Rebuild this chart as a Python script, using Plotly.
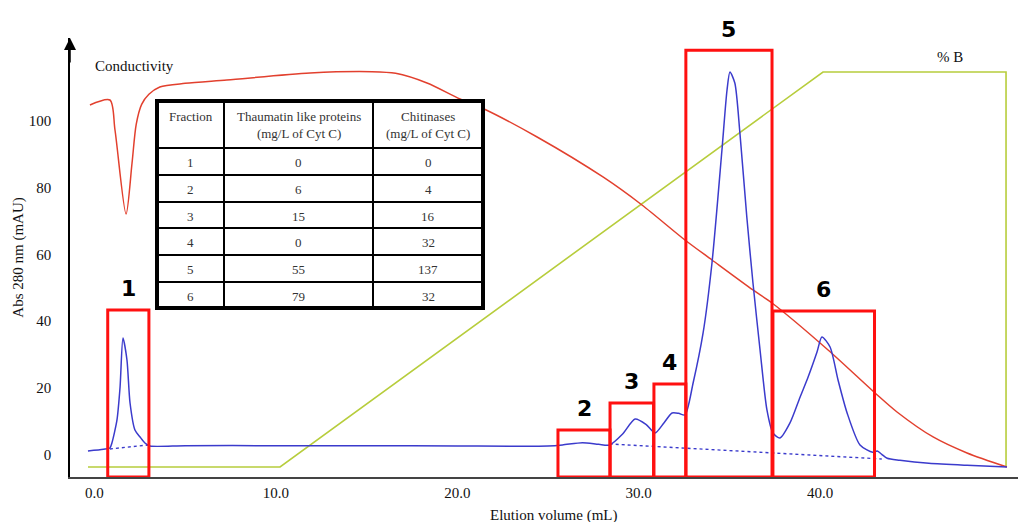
import plotly.graph_objects as go

# ---- UV absorbance trace (Abs 280 nm, mAU) vs elution volume (mL)
abs_ml = [-0.36, 0.5, 0.85, 0.96, 1.1, 1.24, 1.41, 1.57, 1.79, 1.96, 2.23, 2.51, 2.78, 3.06,
          5.0, 10.0, 15.0, 20.0, 25.0, 25.8, 26.9, 27.8, 28.4, 29.1, 29.8, 30.4, 30.9, 31.4,
          31.84, 32.2, 32.55, 33.0, 33.55, 34.04, 34.59, 34.87, 35.03, 35.3, 35.58, 35.96,
          36.3, 36.69, 37.07, 37.4, 37.79, 38.34, 38.9, 39.34, 39.83, 40.1, 40.55, 40.99,
          41.49, 42.2, 42.9, 43.15, 43.4, 43.7, 44.4, 46.0, 48.1, 50.3]
abs_mau = [1.0, 1.5, 1.9, 3.4, 6.5, 10.3, 20.2, 34.9, 28.3, 15.4, 7.3, 5.2, 3.4, 2.5,
           2.6, 2.6, 2.6, 2.5, 2.5, 2.8, 3.5, 3.0, 2.8, 6.0, 10.6, 9.0, 6.4, 9.5,
           12.4, 12.3, 11.8, 21.4, 36.4, 57.4, 91.3, 109.3, 114.7, 111.4, 96.4, 71.2,
           51.4, 31.3, 13.3, 6.4, 4.9, 9.4, 17.2, 23.2, 30.7, 35.2, 32.2, 22.3,
           12.4, 2.8, 0.6, 1.0, 0.0, -1.2, -1.8, -2.7, -3.3, -3.8]

# integration baselines under peak 1 and peaks 3-6
base_ml = [0.85, 2.95, None, 28.4, 43.4]
base_mau = [1.6, 2.8, None, 3.1, -1.4]

# ---- conductivity trace
cond_ml = [-0.25, 0.85, 1.13, 1.74, 2.07, 2.3, 2.6, 3.0, 3.6, 5.0, 7.3, 11.88, 15.3, 16.6,
           18.33, 20.15, 21.36, 24.4, 28.03, 30.18, 32.55, 34.04, 36.3, 37.35, 40.44,
           43.03, 44.24, 46.23, 48.1, 50.3]
cond_val = [104.8, 106.3, 97.3, 72.1, 87.4, 99.0, 105.0, 108.0, 110.2, 111.3, 112.3, 114.4,
            114.8, 114.3, 111.4, 106.6, 103.9, 95.2, 83.2, 74.8, 64.3, 58.3, 49.3, 45.4,
            31.3, 18.4, 12.7, 5.2, 0.4, -3.8]

# ---- gradient (%B) program
grad_ml = [-0.36, 10.23, 40.16, 50.25, 50.25]
grad_val = [-3.8, -3.8, 114.7, 114.7, -3.8]

# ---- collected fractions
frac_label = ["1", "2", "3", "4", "5", "6"]
frac_start = [0.73, 25.55, 28.42, 30.84, 32.6, 37.4]
frac_end = [3.0, 28.42, 30.82, 32.6, 37.35, 43.0]
frac_top = [43.3, 7.3, 15.4, 21.1, 121.2, 43.0]

# ---- activity table
tbl_fraction = [1, 2, 3, 4, 5, 6]
tbl_thaumatin = [0, 6, 15, 0, 55, 79]
tbl_chitinase = [0, 4, 16, 32, 137, 32]
tbl_header = ["Fraction", "Thaumatin like proteins<br>(mg/L of Cyt C)",
              "Chitinases<br>(mg/L of Cyt C)"]

x_ticks = [0, 10, 20, 30, 40]
x_ticktext = ["0.0", "10.0", "20.0", "30.0", "40.0"]
y_ticks = [0, 20, 40, 60, 80, 100]

BLUE = "#3b3bcc"
RED = "#e2402e"
GREEN = "#b7cd3c"
SERIF = "Liberation Serif"

W, H = 1018, 522
M_L, M_R, M_T, M_B = 70, 0, 38, 45
PLOT_W = W - M_L - M_R
PLOT_H = H - M_T - M_B


def px_x(p):
    """pixel column -> paper x"""
    return (p - M_L) / PLOT_W


def px_y(p):
    """pixel row -> paper y"""
    return (H - M_B - p) / PLOT_H


fig = go.Figure()

fig.add_trace(go.Scatter(x=grad_ml, y=grad_val, mode="lines",
                         line=dict(color=GREEN, width=1.6), hoverinfo="skip"))
fig.add_trace(go.Scatter(x=cond_ml, y=cond_val, mode="lines",
                         line=dict(color=RED, width=1.5, shape="spline", smoothing=0.8),
                         hoverinfo="skip"))
fig.add_trace(go.Scatter(x=base_ml, y=base_mau, mode="lines",
                         line=dict(color=BLUE, width=1.4, dash="dot"), hoverinfo="skip"))
fig.add_trace(go.Scatter(x=abs_ml, y=abs_mau, mode="lines",
                         line=dict(color=BLUE, width=1.5, shape="spline", smoothing=0.7),
                         hoverinfo="skip"))

Y_MIN, Y_MAX = -6.81, 124.9

# fraction boxes and their numbers
for lab, x0, x1, top in zip(frac_label, frac_start, frac_end, frac_top):
    fig.add_shape(type="rect", xref="x", yref="y", x0=x0, x1=x1, y0=Y_MIN, y1=top,
                  line=dict(color="#ff1010", width=3), layer="above")
    fig.add_annotation(x=(x0 + x1) / 2, y=top, xref="x", yref="y", text=lab,
                       showarrow=False, xanchor="center", yanchor="middle", yshift=21,
                       font=dict(family="DejaVu Sans", size=22, color="black", weight="bold"))

# ---- activity table drawn as a grid of cells
col_edges = [157, 224, 373, 483]
row_edges = [101, 148, 175, 202, 228, 255, 282, 308]
x0t, x1t = px_x(col_edges[0]), px_x(col_edges[-1])
y0t, y1t = px_y(row_edges[-1]), px_y(row_edges[0])

fig.add_shape(type="rect", xref="paper", yref="paper", x0=x0t, x1=x1t, y0=y0t, y1=y1t,
              fillcolor="white", line=dict(width=0), layer="above")
for c in col_edges[1:-1]:
    fig.add_shape(type="line", xref="paper", yref="paper", x0=px_x(c), x1=px_x(c),
                  y0=y0t, y1=y1t, line=dict(color="black", width=2), layer="above")
for r in row_edges[1:-1]:
    fig.add_shape(type="line", xref="paper", yref="paper", x0=x0t, x1=x1t,
                  y0=px_y(r), y1=px_y(r), line=dict(color="black", width=2), layer="above")
fig.add_shape(type="rect", xref="paper", yref="paper", x0=x0t, x1=x1t, y0=y0t, y1=y1t,
              line=dict(color="black", width=4), layer="above")

cell_font = dict(family=SERIF, size=13, color="#333")
col_mid = [(a + b) / 2 for a, b in zip(col_edges[:-1], col_edges[1:])]
for cm, head in zip(col_mid, tbl_header):
    fig.add_annotation(x=px_x(cm), y=px_y(row_edges[0] + 6), xref="paper", yref="paper",
                       text=head, showarrow=False, align="center",
                       xanchor="center", yanchor="top", font=cell_font)
for i, row in enumerate(zip(tbl_fraction, tbl_thaumatin, tbl_chitinase)):
    ymid = (row_edges[i + 1] + row_edges[i + 2]) / 2 + 1
    for cm, val in zip(col_mid, row):
        fig.add_annotation(x=px_x(cm), y=px_y(ymid), xref="paper", yref="paper",
                           text=str(val), showarrow=False, xanchor="center",
                           yanchor="middle", font=cell_font)

# text labels
fig.add_annotation(x=2.18, y=116.5, xref="x", yref="y", text="Conductivity", showarrow=False,
                   xanchor="center", font=dict(family=SERIF, size=15, color="#111"))
fig.add_annotation(x=47.16, y=119.2, xref="x", yref="y", text="% B", showarrow=False,
                   xanchor="center", font=dict(family=SERIF, size=15, color="#111"))
fig.add_annotation(x=25.33, y=-0.0866, xref="x", yref="paper", text="Elution volume (mL)",
                   showarrow=False, xanchor="center", yanchor="middle",
                   font=dict(family=SERIF, size=15, color="#111"))

# arrow head on the vertical axis
fig.add_annotation(x=0, y=1, xref="paper", yref="paper", ax=0, ay=26, text="",
                   showarrow=True, arrowhead=2, arrowsize=1.6, arrowwidth=1.5,
                   arrowcolor="black")

fig.update_layout(
    width=W, height=H,
    margin=dict(l=M_L, r=M_R, t=M_T, b=M_B),
    paper_bgcolor="white", plot_bgcolor="white",
    showlegend=False,
    font=dict(family=SERIF, size=15, color="#111"),
    xaxis=dict(range=[-1.35, 50.91], tickvals=x_ticks, ticktext=x_ticktext,
               showgrid=False, zeroline=False, showline=True, linecolor="#444",
               linewidth=2, ticks="", ticklabelstandoff=1,
               tickfont=dict(family=SERIF, size=15, color="#111")),
    yaxis=dict(range=[Y_MIN, Y_MAX], tickvals=y_ticks, showgrid=False, zeroline=False,
               showline=True, linecolor="black", linewidth=1.5, ticks="",
               ticklabelstandoff=14,
               tickfont=dict(family=SERIF, size=15, color="#111"),
               title=dict(text="Abs 280 nm (mAU)", standoff=2,
                          font=dict(family=SERIF, size=15, color="#111"))),
)

fig.write_html("out.html")
